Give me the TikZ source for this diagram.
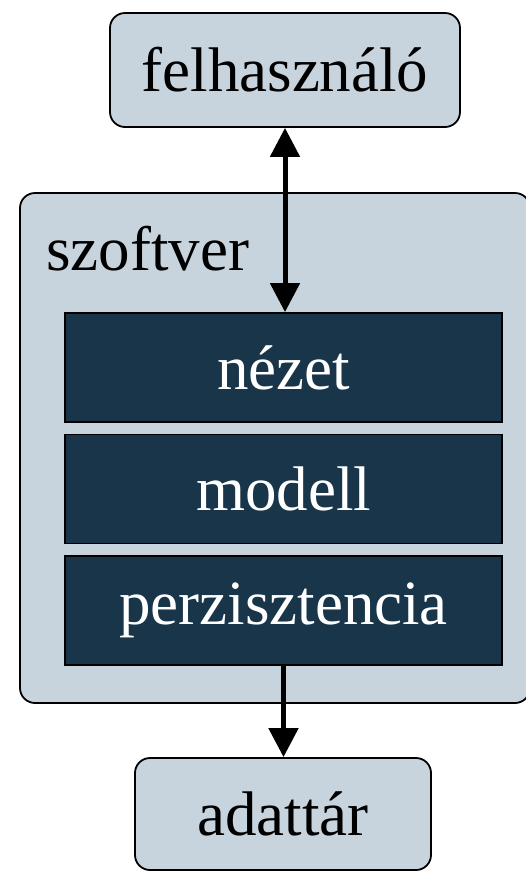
\documentclass[tikz,border=0pt]{standalone}
\usepackage{fontspec}
\setmainfont{Liberation Serif}
\usetikzlibrary{arrows.meta}
\definecolor{boxlight}{RGB}{200,212,221}
\definecolor{boxdark}{RGB}{25,53,73}
\tikzset{
  x=1pt, y=-1pt,
  outerbox/.style={draw=black, line width=1.8pt, fill=boxlight, rounded corners=15pt, inner sep=0pt},
  layerbox/.style={draw=black, line width=1.8pt, fill=boxdark, text=white, inner sep=0pt,
    minimum width=437pt, minimum height=109pt},
  label/.style={font=\fontsize{63}{63}\selectfont},
  flow/.style={line width=5pt, -{Triangle[length=29pt,width=29pt]}},
  flowboth/.style={line width=5pt, {Triangle[length=29pt,width=29pt]}-{Triangle[length=29pt,width=29pt]}}
}
\begin{document}
\begin{tikzpicture}
\useasboundingbox (0,0) rectangle (526,871);
\clip (0,0) rectangle (526,871);
% actors outside the software
\node[outerbox, label, minimum width=350pt, minimum height=114pt] (user) at (285,70) {felhasználó};
\node[outerbox, label, minimum width=296pt, minimum height=112pt] (store) at (283,814) {adattár};
% software container, running slightly past the right edge
\node[outerbox, minimum width=510pt, minimum height=510pt] (sw) at (275,448) {};
\node[label, anchor=base west, inner sep=0pt] (swlabel) at (46,270) {szoftver};
% layers
\node[layerbox, label] (view) at (283.5,367.5) {nézet};
\node[layerbox, label] (model) at (283.5,489) {modell};
\node[layerbox, label] (persist) at (283.5,610.5) {perzisztencia};
% connectors
\draw[flowboth] (user.south) -- (user.south |- view.north);
\draw[flow] (persist.south) -- (persist.south |- store.north);
\end{tikzpicture}
\end{document}
